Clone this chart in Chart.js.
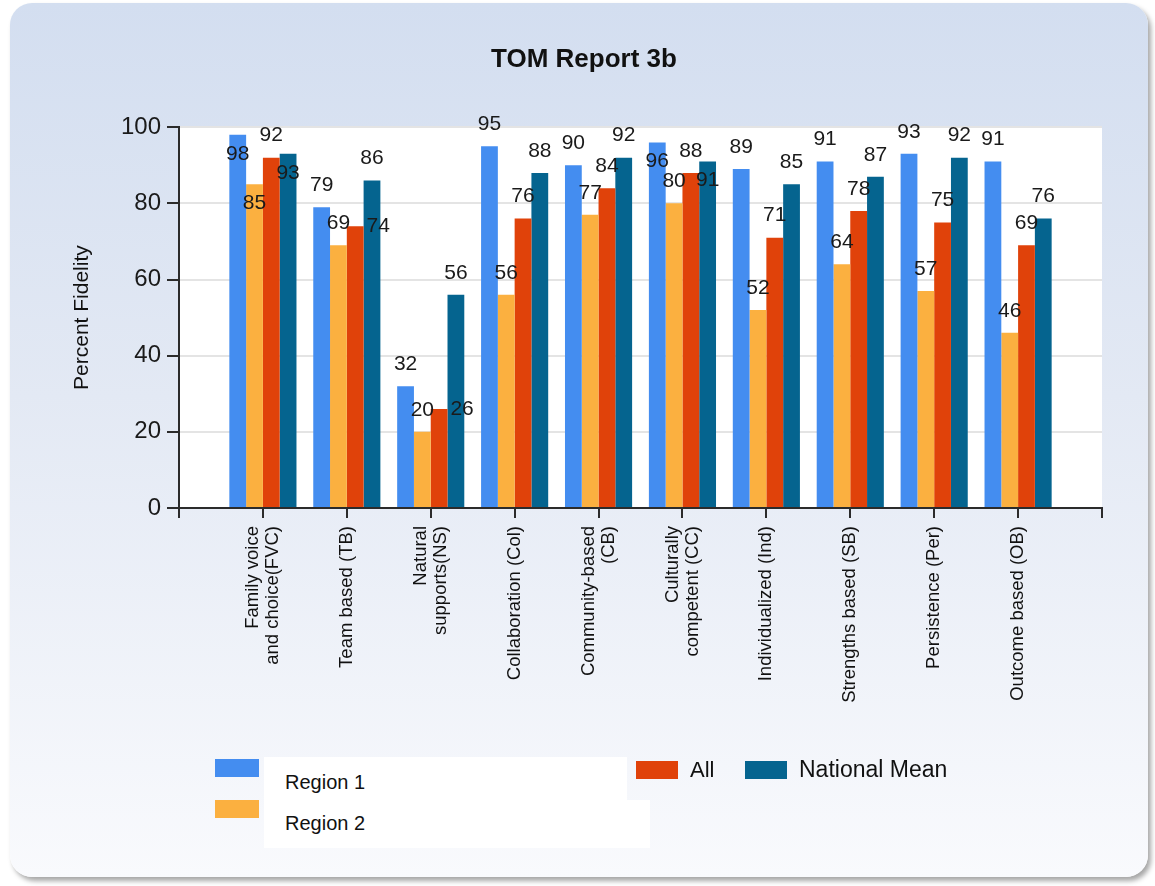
<!DOCTYPE html>
<html>
<head>
<meta charset="utf-8">
<title>TOM Report 3b</title>
<script src="https://cdn.jsdelivr.net/npm/chart.js@4.4.1/dist/chart.umd.min.js"></script>
<style>
html,body{margin:0;padding:0;background:#ffffff;width:1155px;height:886px;overflow:hidden;font-family:"Liberation Sans",Arial,sans-serif;}
#card{position:absolute;left:10px;top:3px;width:1138px;height:874px;border-radius:22px;
  background:linear-gradient(to bottom,#d3def0 0%,#e3e9f4 45%,#f9fafd 100%);
  box-shadow:3px 4px 5px rgba(0,0,0,0.35);}
#wrap{position:absolute;left:0;top:0;width:1155px;height:886px;}
#legend{position:absolute;left:0;top:0;width:1155px;height:886px;pointer-events:none;}
.legbox{position:absolute;background:#ffffff;}
.sw{position:absolute;width:44px;height:18px;box-sizing:border-box;}
.lt{position:absolute;color:#111;white-space:nowrap;line-height:1;}
</style>
</head>
<body>
<div id="card"></div>
<div id="wrap"><canvas id="c" width="1155" height="886"></canvas></div>
<div id="legend"></div>
<script>
// ---- data ----
const categories = [
  ['Family voice', 'and choice(FVC)'],
  'Team based (TB)',
  ['Natural', 'supports(NS)'],
  'Collaboration (Col)',
  ['Community-based', '(CB)'],
  ['Culturally', 'competent (CC)'],
  'Individualized (Ind)',
  'Strengths based (SB)',
  'Persistence (Per)',
  'Outcome based (OB)'
];
const seriesNames = ['Region 1', 'Region 2', 'All', 'National Mean'];
const region1 = [98, 79, 32, 95, 90, 96, 89, 91, 93, 91];
const region2 = [85, 69, 20, 56, 77, 80, 52, 64, 57, 46];
const allValues = [92, 74, 26, 76, 84, 88, 71, 78, 75, 69];
const nationalMean = [93, 86, 56, 88, 92, 91, 85, 87, 92, 76];
const yTicks = [0, 20, 40, 60, 80, 100];

// where each value label sits relative to its bar: above, inside, or to the right
const labelPlacement = [
  ['in', 'up', 'up', 'up', 'up', 'in', 'up', 'up', 'up', 'up'],
  ['in', 'up', 'up', 'up', 'up', 'up', 'up', 'up', 'up', 'up'],
  ['up', 'right', 'right', 'up', 'up', 'up', 'up', 'up', 'up', 'up'],
  ['in', 'up', 'up', 'up', 'up', 'in', 'up', 'up', 'up', 'up']
];

const colors = ['#448df0', '#fbb040', '#e0420a', '#05648f'];

// pad with an empty slot on each side (the axis has 11 intervals)
const pad = arr => [null].concat(arr, [null]);
const paddedLabels = [''].concat(categories, ['']);
const values = [region1, region2, allValues, nationalMean];

const FONT = '"Liberation Sans", Arial, sans-serif';
Chart.defaults.font.family = FONT;
Chart.defaults.color = '#111';

const plotBg = {
  id: 'plotBg',
  beforeDraw(chart) {
    const a = chart.chartArea, ctx = chart.ctx;
    ctx.save();
    ctx.fillStyle = '#ffffff';
    ctx.fillRect(a.left, a.top, a.right - a.left, a.bottom - a.top);
    ctx.restore();
  }
};

const valueLabels = {
  id: 'valueLabels',
  afterDatasetsDraw(chart) {
    const ctx = chart.ctx;
    ctx.save();
    ctx.font = '21px ' + FONT;
    ctx.fillStyle = '#1a1a1a';
    ctx.textAlign = 'center';
    ctx.textBaseline = 'middle';
    chart.data.datasets.forEach((ds, di) => {
      const meta = chart.getDatasetMeta(di);
      meta.data.forEach((bar, i) => {
        const v = ds.data[i];
        if (v === null || v === undefined) return;
        const p = labelPlacement[di][i - 1];
        let x = bar.x, y = bar.y;
        if (p === 'up') y -= 22;
        else if (p === 'in') y += 19;
        else if (p === 'right') x += 23;
        ctx.fillText(String(v), x, y);
      });
    });
    ctx.restore();
  }
};

const xLabels = {
  id: 'xLabels',
  afterDraw(chart) {
    const sc = chart.scales.x, ctx = chart.ctx;
    ctx.save();
    ctx.font = '18.5px ' + FONT;
    ctx.fillStyle = '#111';
    ctx.textAlign = 'right';
    ctx.textBaseline = 'middle';
    const lh = 20;
    chart.data.labels.forEach((lab, i) => {
      if (!lab || (Array.isArray(lab) && lab.length === 0)) return;
      const lines = Array.isArray(lab) ? lab : [lab];
      const x = sc.getPixelForTick(i);
      ctx.save();
      ctx.translate(x, sc.top + 18);
      ctx.rotate(-Math.PI / 2);
      lines.forEach((ln, k) => {
        ctx.fillText(ln, 0, (k - (lines.length - 1) / 2) * lh);
      });
      ctx.restore();
    });
    ctx.restore();
  }
};

const chart = new Chart(document.getElementById('c'), {
  type: 'bar',
  data: {
    labels: paddedLabels,
    datasets: values.map((v, i) => ({
      label: seriesNames[i],
      data: pad(v),
      backgroundColor: colors[i],
      borderWidth: 0,
      categoryPercentage: 0.8,
      barPercentage: 1.0
    }))
  },
  options: {
    responsive: false,
    animation: false,
    devicePixelRatio: 1,
    layout: { padding: { left: 66, right: 53, top: 0, bottom: 178 } },
    plugins: {
      legend: { display: false },
      tooltip: { enabled: false },
      title: {
        display: true,
        text: 'TOM Report 3b',
        color: '#111',
        font: { size: 26, weight: 'bold', family: FONT },
        padding: { top: 44, bottom: 52 }
      }
    },
    scales: {
      x: {
        type: 'category',
        offset: false,
        grid: {
          offset: false,
          drawOnChartArea: false,
          drawTicks: true,
          tickLength: 10,
          tickColor: '#2b2b2b',
          lineWidth: 2
        },
        border: { display: true, color: '#2b2b2b', width: 2 },
        ticks: { display: false, autoSkip: false },
        afterFit(scale) { scale.height = 200; }
      },
      y: {
        min: 0,
        max: 100,
        afterBuildTicks(scale) { scale.ticks = yTicks.map(v => ({ value: v })); },
        grid: {
          color: ctx => (ctx.tick && ctx.tick.value === 0) ? 'rgba(0,0,0,0)' : '#e4e4e4',
          lineWidth: 2,
          tickColor: '#2b2b2b',
          tickLength: 12
        },
        border: { display: true, color: '#2b2b2b', width: 2 },
        ticks: {
          color: '#1a1a1a',
          font: { size: 24, family: FONT },
          padding: 6
        },
        title: {
          display: true,
          text: 'Percent Fidelity',
          color: '#111',
          font: { size: 21, family: FONT },
          padding: { top: 4, bottom: 0 }
        },
        afterFit(scale) { scale.width = 113; }
      }
    }
  },
  plugins: [plotBg, valueLabels, xLabels]
});

// ---- legend (HTML, built from the chart's datasets) ----
const legendLayout = [
  { sw: [215, 759], text: [285, 772], size: 20 },
  { sw: [215, 800], text: [285, 813], size: 20 },
  { sw: [636, 761], text: [690, 759], size: 22 },
  { sw: [745, 761], text: [799, 758], size: 23 }
];
const leg = document.getElementById('legend');
[[264, 757, 363, 43], [264, 800, 386, 48]].forEach(b => {
  const d = document.createElement('div');
  d.className = 'legbox';
  d.style.left = b[0] + 'px'; d.style.top = b[1] + 'px';
  d.style.width = b[2] + 'px'; d.style.height = b[3] + 'px';
  leg.appendChild(d);
});
chart.data.datasets.forEach((ds, i) => {
  const L = legendLayout[i];
  const s = document.createElement('div');
  s.className = 'sw';
  s.style.left = L.sw[0] + 'px'; s.style.top = L.sw[1] + 'px';
  s.style.width = (i < 2 ? 44 : 42) + 'px';
  s.style.background = ds.backgroundColor;
  leg.appendChild(s);
  const t = document.createElement('div');
  t.className = 'lt';
  t.style.left = L.text[0] + 'px'; t.style.top = L.text[1] + 'px';
  t.style.fontSize = L.size + 'px';
  t.textContent = ds.label;
  leg.appendChild(t);
});
</script>
</body>
</html>
